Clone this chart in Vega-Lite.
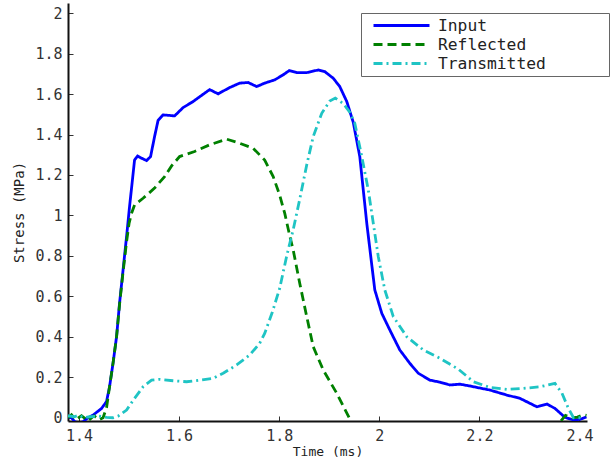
{
  "$schema": "https://vega.github.io/schema/vega-lite/v6.json",
  "width": 519,
  "height": 418,
  "autosize": "none",
  "padding": {"left": 68, "top": 3, "right": 24, "bottom": 43},
  "background": "white",
  "config": {
    "view": {"stroke": null},
    "axis": {
      "grid": false,
      "domainColor": "#111",
      "domainWidth": 2,
      "tickColor": "#333",
      "tickWidth": 1,
      "tickSize": -5,
      "labelFont": "DejaVu Sans Mono",
      "labelFontSize": 15,
      "labelColor": "#333",
      "titleFont": "DejaVu Sans Mono",
      "titleFontSize": 13,
      "titleFontWeight": "normal",
      "titleColor": "#222"
    }
  },
  "data": {
    "values": [
      {"t": 1.378, "v": 0.005, "s": "Input", "part": "a"},
      {"t": 1.385, "v": 0.0, "s": "Input", "part": "a"},
      {"t": 1.392, "v": -0.02, "s": "Input", "part": "a"},
      {"t": 1.4, "v": -0.025, "s": "Input", "part": "a"},
      {"t": 1.408, "v": -0.02, "s": "Input", "part": "a"},
      {"t": 1.415, "v": -0.005, "s": "Input", "part": "a"},
      {"t": 1.428, "v": 0.013, "s": "Input", "part": "a"},
      {"t": 1.445, "v": 0.046, "s": "Input", "part": "a"},
      {"t": 1.455, "v": 0.08, "s": "Input", "part": "a"},
      {"t": 1.461, "v": 0.153, "s": "Input", "part": "a"},
      {"t": 1.468, "v": 0.27, "s": "Input", "part": "a"},
      {"t": 1.475, "v": 0.4, "s": "Input", "part": "a"},
      {"t": 1.481, "v": 0.566, "s": "Input", "part": "a"},
      {"t": 1.488, "v": 0.73, "s": "Input", "part": "a"},
      {"t": 1.495, "v": 0.895, "s": "Input", "part": "a"},
      {"t": 1.501, "v": 1.044, "s": "Input", "part": "a"},
      {"t": 1.506, "v": 1.159, "s": "Input", "part": "a"},
      {"t": 1.511, "v": 1.274, "s": "Input", "part": "a"},
      {"t": 1.517, "v": 1.294, "s": "Input", "part": "a"},
      {"t": 1.525, "v": 1.283, "s": "Input", "part": "a"},
      {"t": 1.535, "v": 1.271, "s": "Input", "part": "a"},
      {"t": 1.543, "v": 1.291, "s": "Input", "part": "a"},
      {"t": 1.551, "v": 1.39, "s": "Input", "part": "a"},
      {"t": 1.558, "v": 1.47, "s": "Input", "part": "a"},
      {"t": 1.568, "v": 1.497, "s": "Input", "part": "a"},
      {"t": 1.591, "v": 1.492, "s": "Input", "part": "a"},
      {"t": 1.608, "v": 1.533, "s": "Input", "part": "a"},
      {"t": 1.628, "v": 1.563, "s": "Input", "part": "a"},
      {"t": 1.648, "v": 1.599, "s": "Input", "part": "a"},
      {"t": 1.661, "v": 1.622, "s": "Input", "part": "a"},
      {"t": 1.678, "v": 1.601, "s": "Input", "part": "a"},
      {"t": 1.701, "v": 1.632, "s": "Input", "part": "a"},
      {"t": 1.721, "v": 1.654, "s": "Input", "part": "a"},
      {"t": 1.738, "v": 1.657, "s": "Input", "part": "a"},
      {"t": 1.755, "v": 1.637, "s": "Input", "part": "a"},
      {"t": 1.771, "v": 1.654, "s": "Input", "part": "a"},
      {"t": 1.791, "v": 1.67, "s": "Input", "part": "a"},
      {"t": 1.808, "v": 1.695, "s": "Input", "part": "a"},
      {"t": 1.82, "v": 1.716, "s": "Input", "part": "a"},
      {"t": 1.835, "v": 1.706, "s": "Input", "part": "a"},
      {"t": 1.855, "v": 1.706, "s": "Input", "part": "a"},
      {"t": 1.878, "v": 1.719, "s": "Input", "part": "a"},
      {"t": 1.891, "v": 1.711, "s": "Input", "part": "a"},
      {"t": 1.908, "v": 1.678, "s": "Input", "part": "a"},
      {"t": 1.921, "v": 1.637, "s": "Input", "part": "a"},
      {"t": 1.935, "v": 1.563, "s": "Input", "part": "a"},
      {"t": 1.948, "v": 1.46, "s": "Input", "part": "a"},
      {"t": 1.961, "v": 1.291, "s": "Input", "part": "a"},
      {"t": 1.968, "v": 1.126, "s": "Input", "part": "a"},
      {"t": 1.975, "v": 0.961, "s": "Input", "part": "a"},
      {"t": 1.983, "v": 0.796, "s": "Input", "part": "a"},
      {"t": 1.991, "v": 0.632, "s": "Input", "part": "a"},
      {"t": 2.005, "v": 0.516, "s": "Input", "part": "a"},
      {"t": 2.021, "v": 0.434, "s": "Input", "part": "a"},
      {"t": 2.041, "v": 0.335, "s": "Input", "part": "a"},
      {"t": 2.061, "v": 0.269, "s": "Input", "part": "a"},
      {"t": 2.078, "v": 0.22, "s": "Input", "part": "a"},
      {"t": 2.101, "v": 0.186, "s": "Input", "part": "a"},
      {"t": 2.121, "v": 0.176, "s": "Input", "part": "a"},
      {"t": 2.141, "v": 0.162, "s": "Input", "part": "a"},
      {"t": 2.161, "v": 0.166, "s": "Input", "part": "a"},
      {"t": 2.181, "v": 0.157, "s": "Input", "part": "a"},
      {"t": 2.221, "v": 0.137, "s": "Input", "part": "a"},
      {"t": 2.255, "v": 0.112, "s": "Input", "part": "a"},
      {"t": 2.281, "v": 0.096, "s": "Input", "part": "a"},
      {"t": 2.315, "v": 0.054, "s": "Input", "part": "a"},
      {"t": 2.335, "v": 0.068, "s": "Input", "part": "a"},
      {"t": 2.351, "v": 0.046, "s": "Input", "part": "a"},
      {"t": 2.371, "v": 0.002, "s": "Input", "part": "a"},
      {"t": 2.388, "v": -0.011, "s": "Input", "part": "a"},
      {"t": 2.401, "v": -0.008, "s": "Input", "part": "a"},
      {"t": 2.414, "v": 0.004, "s": "Input", "part": "a"},

      {"t": 1.378, "v": 0.0, "s": "Reflected", "part": "a"},
      {"t": 1.385, "v": 0.015, "s": "Reflected", "part": "a"},
      {"t": 1.393, "v": -0.01, "s": "Reflected", "part": "a"},
      {"t": 1.405, "v": 0.01, "s": "Reflected", "part": "a"},
      {"t": 1.418, "v": -0.015, "s": "Reflected", "part": "a"},
      {"t": 1.43, "v": 0.01, "s": "Reflected", "part": "a"},
      {"t": 1.44, "v": -0.01, "s": "Reflected", "part": "a"},
      {"t": 1.448, "v": 0.0, "s": "Reflected", "part": "a"},
      {"t": 1.455, "v": 0.05, "s": "Reflected", "part": "a"},
      {"t": 1.461, "v": 0.153, "s": "Reflected", "part": "a"},
      {"t": 1.468, "v": 0.27, "s": "Reflected", "part": "a"},
      {"t": 1.475, "v": 0.4, "s": "Reflected", "part": "a"},
      {"t": 1.481, "v": 0.56, "s": "Reflected", "part": "a"},
      {"t": 1.488, "v": 0.72, "s": "Reflected", "part": "a"},
      {"t": 1.495, "v": 0.87, "s": "Reflected", "part": "a"},
      {"t": 1.5, "v": 0.96, "s": "Reflected", "part": "a"},
      {"t": 1.505, "v": 1.011, "s": "Reflected", "part": "a"},
      {"t": 1.511, "v": 1.052, "s": "Reflected", "part": "a"},
      {"t": 1.528, "v": 1.085, "s": "Reflected", "part": "a"},
      {"t": 1.551, "v": 1.135, "s": "Reflected", "part": "a"},
      {"t": 1.571, "v": 1.192, "s": "Reflected", "part": "a"},
      {"t": 1.585, "v": 1.245, "s": "Reflected", "part": "a"},
      {"t": 1.601, "v": 1.291, "s": "Reflected", "part": "a"},
      {"t": 1.631, "v": 1.316, "s": "Reflected", "part": "a"},
      {"t": 1.661, "v": 1.349, "s": "Reflected", "part": "a"},
      {"t": 1.695, "v": 1.377, "s": "Reflected", "part": "a"},
      {"t": 1.721, "v": 1.357, "s": "Reflected", "part": "a"},
      {"t": 1.748, "v": 1.332, "s": "Reflected", "part": "a"},
      {"t": 1.771, "v": 1.274, "s": "Reflected", "part": "a"},
      {"t": 1.788, "v": 1.192, "s": "Reflected", "part": "a"},
      {"t": 1.801, "v": 1.1, "s": "Reflected", "part": "a"},
      {"t": 1.811, "v": 1.011, "s": "Reflected", "part": "a"},
      {"t": 1.821, "v": 0.9, "s": "Reflected", "part": "a"},
      {"t": 1.828, "v": 0.829, "s": "Reflected", "part": "a"},
      {"t": 1.841, "v": 0.665, "s": "Reflected", "part": "a"},
      {"t": 1.855, "v": 0.5, "s": "Reflected", "part": "a"},
      {"t": 1.868, "v": 0.351, "s": "Reflected", "part": "a"},
      {"t": 1.888, "v": 0.236, "s": "Reflected", "part": "a"},
      {"t": 1.915, "v": 0.121, "s": "Reflected", "part": "a"},
      {"t": 1.941, "v": -0.005, "s": "Reflected", "part": "a"},
      {"t": 2.363, "v": -0.015, "s": "Reflected", "part": "b"},
      {"t": 2.372, "v": 0.012, "s": "Reflected", "part": "b"},
      {"t": 2.385, "v": 0.0, "s": "Reflected", "part": "b"},
      {"t": 2.396, "v": 0.003, "s": "Reflected", "part": "b"},
      {"t": 2.408, "v": 0.015, "s": "Reflected", "part": "b"},
      {"t": 2.414, "v": 0.012, "s": "Reflected", "part": "b"},

      {"t": 1.378, "v": 0.01, "s": "Transmitted", "part": "a"},
      {"t": 1.39, "v": 0.005, "s": "Transmitted", "part": "a"},
      {"t": 1.4, "v": 0.012, "s": "Transmitted", "part": "a"},
      {"t": 1.41, "v": 0.0, "s": "Transmitted", "part": "a"},
      {"t": 1.421, "v": 0.005, "s": "Transmitted", "part": "a"},
      {"t": 1.44, "v": 0.008, "s": "Transmitted", "part": "a"},
      {"t": 1.455, "v": 0.002, "s": "Transmitted", "part": "a"},
      {"t": 1.468, "v": 0.0, "s": "Transmitted", "part": "a"},
      {"t": 1.478, "v": 0.008, "s": "Transmitted", "part": "a"},
      {"t": 1.495, "v": 0.038, "s": "Transmitted", "part": "a"},
      {"t": 1.511, "v": 0.096, "s": "Transmitted", "part": "a"},
      {"t": 1.528, "v": 0.153, "s": "Transmitted", "part": "a"},
      {"t": 1.545, "v": 0.186, "s": "Transmitted", "part": "a"},
      {"t": 1.561, "v": 0.19, "s": "Transmitted", "part": "a"},
      {"t": 1.588, "v": 0.183, "s": "Transmitted", "part": "a"},
      {"t": 1.615, "v": 0.178, "s": "Transmitted", "part": "a"},
      {"t": 1.641, "v": 0.186, "s": "Transmitted", "part": "a"},
      {"t": 1.668, "v": 0.195, "s": "Transmitted", "part": "a"},
      {"t": 1.688, "v": 0.22, "s": "Transmitted", "part": "a"},
      {"t": 1.715, "v": 0.261, "s": "Transmitted", "part": "a"},
      {"t": 1.741, "v": 0.31, "s": "Transmitted", "part": "a"},
      {"t": 1.761, "v": 0.368, "s": "Transmitted", "part": "a"},
      {"t": 1.771, "v": 0.417, "s": "Transmitted", "part": "a"},
      {"t": 1.786, "v": 0.52, "s": "Transmitted", "part": "a"},
      {"t": 1.801, "v": 0.64, "s": "Transmitted", "part": "a"},
      {"t": 1.815, "v": 0.8, "s": "Transmitted", "part": "a"},
      {"t": 1.828, "v": 0.93, "s": "Transmitted", "part": "a"},
      {"t": 1.841, "v": 1.08, "s": "Transmitted", "part": "a"},
      {"t": 1.855, "v": 1.25, "s": "Transmitted", "part": "a"},
      {"t": 1.868, "v": 1.39, "s": "Transmitted", "part": "a"},
      {"t": 1.885, "v": 1.505, "s": "Transmitted", "part": "a"},
      {"t": 1.901, "v": 1.565, "s": "Transmitted", "part": "a"},
      {"t": 1.912, "v": 1.58, "s": "Transmitted", "part": "a"},
      {"t": 1.928, "v": 1.553, "s": "Transmitted", "part": "a"},
      {"t": 1.941, "v": 1.51, "s": "Transmitted", "part": "a"},
      {"t": 1.951, "v": 1.456, "s": "Transmitted", "part": "a"},
      {"t": 1.965, "v": 1.291, "s": "Transmitted", "part": "a"},
      {"t": 1.978, "v": 1.126, "s": "Transmitted", "part": "a"},
      {"t": 1.988, "v": 0.961, "s": "Transmitted", "part": "a"},
      {"t": 1.998, "v": 0.796, "s": "Transmitted", "part": "a"},
      {"t": 2.011, "v": 0.632, "s": "Transmitted", "part": "a"},
      {"t": 2.028, "v": 0.5, "s": "Transmitted", "part": "a"},
      {"t": 2.055, "v": 0.4, "s": "Transmitted", "part": "a"},
      {"t": 2.088, "v": 0.335, "s": "Transmitted", "part": "a"},
      {"t": 2.121, "v": 0.294, "s": "Transmitted", "part": "a"},
      {"t": 2.158, "v": 0.24, "s": "Transmitted", "part": "a"},
      {"t": 2.188, "v": 0.178, "s": "Transmitted", "part": "a"},
      {"t": 2.221, "v": 0.15, "s": "Transmitted", "part": "a"},
      {"t": 2.255, "v": 0.14, "s": "Transmitted", "part": "a"},
      {"t": 2.288, "v": 0.145, "s": "Transmitted", "part": "a"},
      {"t": 2.321, "v": 0.153, "s": "Transmitted", "part": "a"},
      {"t": 2.351, "v": 0.17, "s": "Transmitted", "part": "a"},
      {"t": 2.365, "v": 0.121, "s": "Transmitted", "part": "a"},
      {"t": 2.378, "v": 0.046, "s": "Transmitted", "part": "a"},
      {"t": 2.388, "v": 0.0, "s": "Transmitted", "part": "a"},
      {"t": 2.408, "v": 0.0, "s": "Transmitted", "part": "a"}
    ]
  },
  "mark": {"type": "line", "strokeWidth": 2.8, "clip": true, "strokeCap": "butt"},
  "encoding": {
    "x": {
      "field": "t",
      "type": "quantitative",
      "scale": {"domain": [1.378, 2.415], "nice": false, "zero": false},
      "axis": {
        "values": [1.4, 1.6, 1.8, 2, 2.2, 2.4],
        "format": "~g",
        "title": "Time (ms)",
        "labelPadding": 12,
        "titlePadding": 2
      }
    },
    "y": {
      "field": "v",
      "type": "quantitative",
      "scale": {"domain": [-0.016, 2.05], "nice": false, "zero": false},
      "axis": {
        "values": [0, 0.2, 0.4, 0.6, 0.8, 1, 1.2, 1.4, 1.6, 1.8, 2],
        "format": "~g",
        "title": "Stress (MPa)",
        "titleFontSize": 14,
        "labelPadding": 11,
        "titlePadding": 8
      }
    },
    "color": {
      "field": "s",
      "type": "nominal",
      "scale": {
        "domain": ["Input", "Reflected", "Transmitted"],
        "range": ["#0000ff", "#008000", "#1fc4c4"]
      },
      "legend": {
        "orient": "none",
        "legendX": 293,
        "legendY": 10,
        "title": null,
        "direction": "vertical",
        "fillColor": "white",
        "strokeColor": "#666",
        "padding": 4,
        "symbolType": "M0,0H8",
        "symbolSize": 196,
        "symbolStrokeWidth": 3,
        "labelFont": "DejaVu Sans Mono",
        "labelFontSize": 16.3,
        "labelColor": "#222",
        "labelOffset": 56,
        "labelLimit": 0,
        "rowPadding": 2,
        "labelExpr": "datum.label + '\u00a0\u00a0\u00a0\u00a0\u00a0\u00a0\u200b'"
      }
    },
    "strokeDash": {
      "field": "s",
      "type": "nominal",
      "scale": {
        "domain": ["Input", "Reflected", "Transmitted"],
        "range": [[1, 0], [9, 5], [9, 4, 2, 4]]
      }
    },
    "detail": {"field": "part"}
  }
}
